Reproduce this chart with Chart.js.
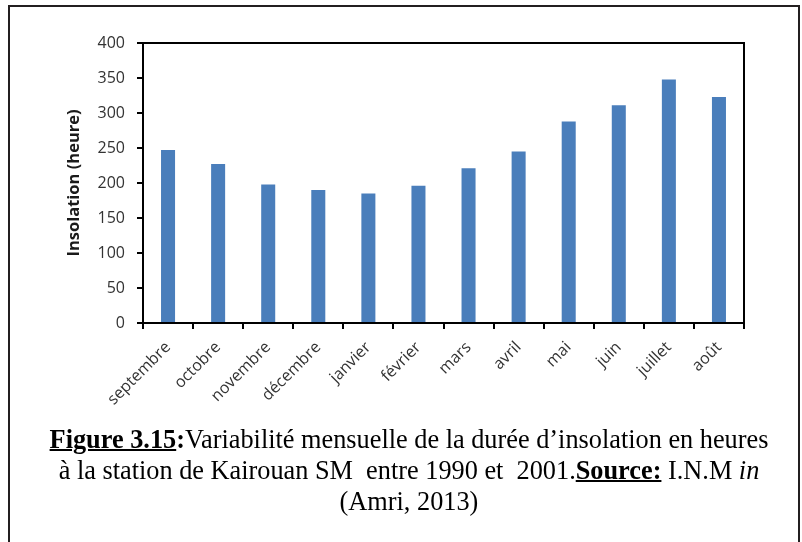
<!DOCTYPE html>
<html lang="fr">
<head>
<meta charset="utf-8">
<title>Insolation mensuelle - Kairouan</title>
<script src="https://cdn.jsdelivr.net/npm/chart.js@4/dist/chart.umd.min.js"></script>
<style>
  body { margin: 0; background: #fff; width: 802px; height: 542px; overflow: hidden; position: relative; }
  #cadre {
    position: absolute; left: 8px; top: 5px; width: 792px; height: 600px;
    box-sizing: border-box; border: 2px solid #231f20; border-bottom: none;
  }
  #graphe { position: absolute; left: 0; top: 0; }
  #legende {
    position: absolute; left: 0; top: 424px; width: 818px;
    font-family: "Liberation Serif", "Times New Roman", serif;
    font-size: 26.3px; line-height: 31px; text-align: center; color: #000;
  }
  #legende b { text-decoration: underline; text-decoration-thickness: 2px; }
</style>
</head>
<body>
<div id="cadre"></div>
<canvas id="graphe" width="802" height="430"></canvas>
<div id="legende">
  <b>Figure 3.15</b><b style="text-decoration:none">:</b>Variabilité mensuelle de la durée d’insolation en heures<br>
  à la station de Kairouan SM &nbsp;entre 1990 et &nbsp;2001.<b>Source:</b> I.N.M <i>in</i><br>
  (Amri, 2013)
</div>
<script>
// Durée d'insolation moyenne mensuelle (heures), station Kairouan SM 1990-2001
const mois = ['septembre', 'octobre', 'novembre', 'décembre', 'janvier', 'février',
              'mars', 'avril', 'mai', 'juin', 'juillet', 'août'];
const insolation = [247, 227, 198, 190, 185, 196, 221, 245, 288, 311, 348, 323];
const axeY = { min: 0, max: 400, pas: 50 };

const police = '"Open Sans", "Liberation Sans", sans-serif';

// trace le cadre complet autour de la zone de tracé
const cadreZone = {
    id: 'cadreZone',
    afterDraw(chart) {
        const { ctx, chartArea: a } = chart;
        ctx.save();
        ctx.strokeStyle = '#000';
        ctx.lineWidth = 2;
        ctx.strokeRect(a.left, a.top, a.right - a.left, a.bottom - a.top);
        ctx.restore();
    }
};

new Chart(document.getElementById('graphe'), {
    type: 'bar',
    data: {
        labels: mois,
        datasets: [{
            label: 'Insolation (heure)',
            data: insolation,
            backgroundColor: '#4a7ebb',
            borderWidth: 0,
            barPercentage: 0.56,
            categoryPercentage: 0.5
        }]
    },
    options: {
        responsive: false,
        animation: false,
        devicePixelRatio: 1,
        layout: { padding: { left: 0, top: 43, right: 58, bottom: 0 } },
        plugins: { legend: { display: false }, tooltip: { enabled: false } },
        scales: {
            x: {
                afterFit(s) { s.height = 107; },
                grid: { offset: true, drawOnChartArea: false, color: '#000', lineWidth: 2, tickLength: 6 },
                border: { color: '#000', width: 2 },
                ticks: {
                    maxRotation: 45, minRotation: 45, padding: 9,
                    color: '#333', font: { family: police, size: 16 }
                }
            },
            y: {
                min: axeY.min, max: axeY.max,
                afterFit(s) { s.width = 143; },
                grid: { drawOnChartArea: false, color: '#000', lineWidth: 2, tickLength: 6 },
                border: { color: '#000', width: 2 },
                ticks: {
                    stepSize: axeY.pas, padding: 12,
                    color: '#333', font: { family: police, size: 16 }
                },
                title: {
                    display: true, text: 'Insolation (heure)',
                    color: '#1a1a1a', padding: { top: 64, bottom: 0 },
                    font: { family: police, size: 16.5, weight: 'bold' }
                }
            }
        }
    },
    plugins: [cadreZone]
});
</script>
</body>
</html>
